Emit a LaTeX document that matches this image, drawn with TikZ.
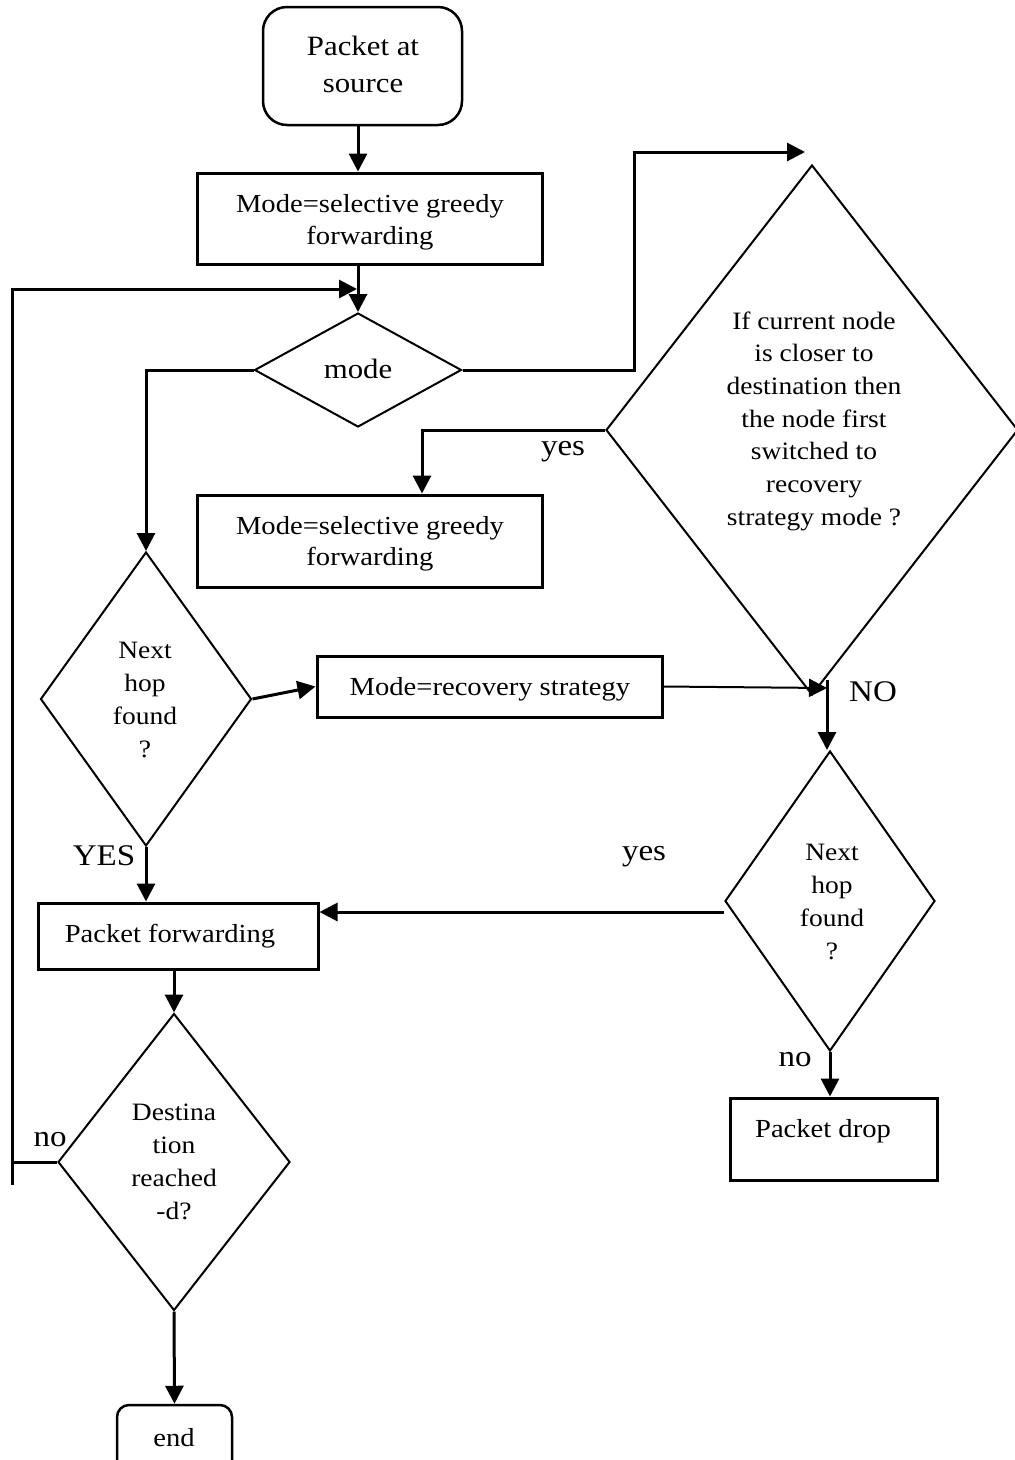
\documentclass[tikz,border=0pt]{standalone}
\usepackage{fontspec}
\setmainfont[FakeStretch=1.1]{Liberation Serif}
\usetikzlibrary{arrows.meta,shapes.geometric,calc}
\begin{document}
\begin{tikzpicture}[x=1pt,y=-1pt,
  conn/.style={line width=3pt,-{Triangle[length=18pt,width=18pt]}},
  thinconn/.style={line width=2pt,-{Triangle[length=18pt,width=18pt]}},
  plain/.style={line width=3pt},
  boxn/.style={draw,line width=3pt,rectangle,inner sep=0pt},
  termn/.style={draw,line width=2.5pt,rounded corners=24pt,rectangle,inner sep=0pt},
  dia/.style={draw,line width=2pt,diamond,inner sep=0pt},
  txt/.style={align=center,inner sep=0pt},
  lbl/.style={inner sep=0pt,font=\fontsize{30}{30}\selectfont}
]
\useasboundingbox (0,0) rectangle (1015,1460);

% nodes
\node[termn, minimum width=199pt, minimum height=118pt] (start) at (362.5,66) {};
\node[txt, font=\fontsize{28}{37}\selectfont] (startt) at (363,64) {Packet at\\source};

\node[boxn, minimum width=345pt, minimum height=91pt] (b1) at (369.5,218.5) {};
\node[txt, font=\fontsize{26}{32}\selectfont] (b1t) at (370,222) {Mode=selective greedy\\forwarding};

\node[dia, minimum width=207pt, minimum height=114pt] (mode) at (358,370) {};
\node[txt, font=\fontsize{28}{32}\selectfont] (modet) at (358,369) {mode};

\node[dia, minimum width=412pt, minimum height=530pt] (q1) at (812,430) {};
\node[txt, font=\fontsize{25}{32.7}\selectfont] (q1t) at (814,421) {If current node\\is closer to\\destination then\\the node first\\switched to\\recovery\\strategy mode ?};

\node[boxn, minimum width=345pt, minimum height=92pt] (b2) at (369.5,541) {};
\node[txt, font=\fontsize{26}{31}\selectfont] (b2t) at (370,544) {Mode=selective greedy\\forwarding};

\node[dia, minimum width=211pt, minimum height=294pt] (nh1) at (146,699) {};
\node[txt, font=\fontsize{25}{33}\selectfont] (nh1t) at (145,700) {Next\\hop\\found\\?};

\node[boxn, minimum width=345pt, minimum height=61pt] (b3) at (489.5,686.5) {};
\node[txt, font=\fontsize{26}{30}\selectfont] (b3t) at (490,689) {Mode=recovery strategy};

\node[dia, minimum width=210pt, minimum height=300pt] (nh2) at (830,901) {};
\node[txt, font=\fontsize{25}{33}\selectfont] (nh2t) at (832,902) {Next\\hop\\found\\?};

\node[boxn, minimum width=280pt, minimum height=66pt] (b4) at (178,936) {};
\node[txt, font=\fontsize{26}{30}\selectfont] (b4t) at (170,936) {Packet forwarding};

\node[dia, minimum width=232pt, minimum height=297pt] (dest) at (174,1162) {};
\node[txt, font=\fontsize{25}{33}\selectfont] (destt) at (174,1162) {Destina\\tion\\reached\\-d?};

\node[termn, rounded corners=12pt, minimum width=115pt, minimum height=90pt] (end) at (174.5,1450) {};
\node[txt, font=\fontsize{26}{30}\selectfont] (endt) at (174,1438) {end};

\node[boxn, minimum width=207pt, minimum height=82pt] (drop) at (833.5,1139) {};
\node[txt, font=\fontsize{26}{30}\selectfont] (dropt) at (823,1131) {Packet drop};

% coordinates
\coordinate (loopin) at (357,289);
\coordinate (loopbot) at (12,1185);
\coordinate (q1in) at (805,152);
\coordinate (noin) at (827,688);

% connectors
\draw[conn] ([xshift=-4.5pt]start.south) -- ([xshift=-4.5pt]start.south |- b1.north);
\draw[conn] (mode.north |- b1.south) -- (mode.north);
\draw[conn] (loopbot) -- (loopbot |- loopin) -- (loopin);
\draw[plain] (dest.west) -- (dest.west -| loopbot);
\draw[conn] (mode.west) -| (nh1.north);
\draw[conn] (mode.east) -- ++(172,0) |- (q1in);
\draw[conn] (q1.west) -| ([xshift=52.5pt]b2.north);
\draw[conn] (nh1.east) -- (b3.west);
\draw[thinconn] (b3.east) -- (noin);
\draw[conn] ([yshift=8pt]noin) -- (noin |- nh2.north);
\draw[conn] ([yshift=-11pt]nh2.west) -- ([yshift=-11pt]nh2.west -| b4.east);
\draw[conn] (nh1.south) -- (nh1.south |- b4.north);
\draw[conn] (dest.north |- b4.south) -- (dest.north);
\draw[conn] (dest.south) -- (end.north);
\draw[conn] (nh2.south) -- (nh2.south |- drop.north);

% labels
\node[lbl] (lyes1) at (563,452) {yes};
\node[lbl] (lno1) at (873,692) {NO};
\node[lbl] (lyes2) at (644,857) {yes};
\node[lbl] (lyes3) at (104,856) {YES};
\node[lbl] (lno2) at (50,1140) {no};
\node[lbl] (lno3) at (795,1060) {no};
\end{tikzpicture}
\end{document}
